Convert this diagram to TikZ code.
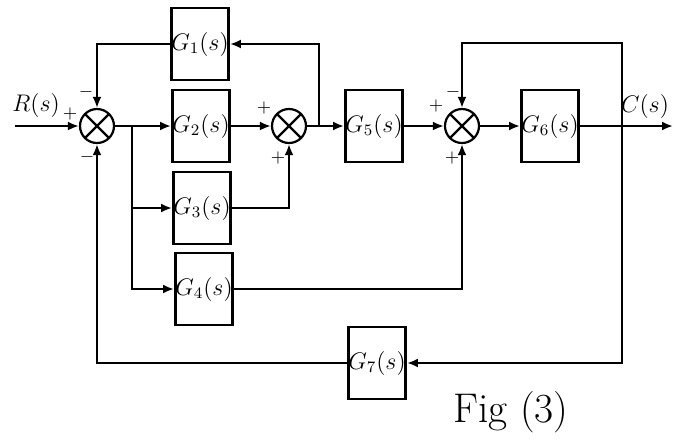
\documentclass[tikz,border=0pt]{standalone}
\usepackage{amsmath}
\usetikzlibrary{arrows.meta, positioning, calc}

\begin{document}
\begin{tikzpicture}[x=0.5pt, y=-0.5pt, line width=1.1pt,
  blk/.style={draw, line width=1.3pt, minimum width=28.5pt, minimum height=36pt, inner sep=0pt,
    font=\fontsize{11.5}{13}\selectfont},
  sumj/.style={draw, circle, minimum size=17pt, inner sep=0pt,
    path picture={\draw (path picture bounding box.north west) -- (path picture bounding box.south east)
      (path picture bounding box.north east) -- (path picture bounding box.south west);}},
  sig/.style={font=\small, inner sep=0pt},
  lbl/.style={font=\large},
  flow/.style={-{Latex[length=5.5pt, width=4.5pt]}}]
  \useasboundingbox (0,0) rectangle (674,441);

  \node[blk] (g1) at (200,44) {$G_1(s)$};
  \node[blk] (g2) at (201,126) {$G_2(s)$};
  \node[blk] (g3) at (202,208) {$G_3(s)$};
  \node[blk] (g4) at (204,289) {$G_4(s)$};
  \node[blk] (g5) at (374,126) {$G_5(s)$};
  \node[blk] (g6) at (550,126) {$G_6(s)$};
  \node[blk] (g7) at (377,363) {$G_7(s)$};
  \node[sumj] (s1) at (97,126) {};
  \node[sumj] (s2) at (289,126) {};
  \node[sumj] (s3) at (462,126) {};

  \coordinate (rin) at (15,126);
  \coordinate (cout) at (673,126);
  \coordinate (b1) at (132,126);
  \coordinate (b2) at (319,126);
  \coordinate (b3) at (622,126);
  \coordinate (top3) at (622,43);

  \draw[flow] (rin) -- (s1.west);
  \draw[flow] (s1.east) -- (g2.west);
  \draw[flow] (b1) |- (g3.west);
  \draw[flow] (b1) |- (g4.west);
  \draw[flow] (g2.east) -- (s2.west);
  \draw[flow] (s2.east) -- (g5.west);
  \draw[flow] (b2) |- (g1.east);
  \draw[flow] (g1.west) -| (s1.north);
  \draw[flow] (g3.east) -| (s2.south);
  \draw[flow] (g5.east) -- (s3.west);
  \draw[flow] (g4.east) -| (s3.south);
  \draw[flow] (s3.east) -- (g6.west);
  \draw[flow] (g6.east) -- (cout);
  \draw[flow] (b3) -- (top3) -| (s3.north);
  \draw[flow] (b3) |- (g7.east);
  \draw[flow] (g7.west) -| (s1.south);

  \node[lbl] (rlab) at (36,105) {$R(s)$};
  \node[lbl] (clab) at (645,106) {$C(s)$};
  \node[sig] at (70,114) {$+$};
  \node[sig] at (86,92) {$-$};
  \node[sig] at (87,157) {$-$};
  \node[sig] at (264,108) {$+$};
  \node[sig] at (278,158) {$+$};
  \node[sig] at (436,106) {$+$};
  \node[sig] at (453,92) {$-$};
  \node[sig] at (452,158) {$+$};
  \node[font=\huge] (fig) at (511,412) {Fig (3)};
\end{tikzpicture}
\end{document}
